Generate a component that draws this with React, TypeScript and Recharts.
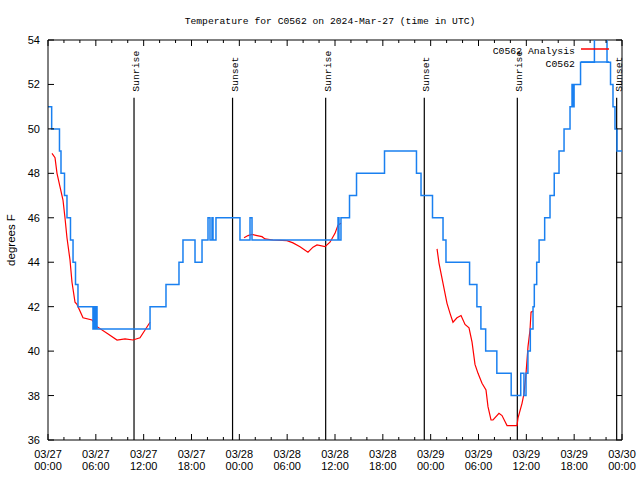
import React from "react";
import { LineChart, Line, XAxis, YAxis, ReferenceLine } from "recharts";

// C0562 observations (deg F), stepped
const obsHours = [
  0, 0.46, 1.44, 1.63, 2.07, 2.38, 2.82, 3.14, 3.45, 3.76, 5.64, 5.77, 5.9, 6.02, 6.15,
  12.8, 14.8, 16.43, 16.93, 18.44, 19.32, 20.07, 20.32, 20.57, 20.7, 21.07, 24.08,
  25.34, 25.59, 36.38, 36.5, 36.75, 37.82, 38.7, 42.21, 46.22, 46.79, 48.23, 49.55,
  49.92, 52.88, 53.8, 54.3, 54.9, 56.3, 58.1, 59.3, 59.7, 59.96, 60.2, 60.5, 60.84,
  61.0, 61.3, 61.6, 62.3, 62.97, 63.5, 64.1, 64.73, 65.48, 65.73, 65.86, 65.99, 66.8,
  68.54, 70.12, 70.56, 70.87, 71.12, 71.37, 72,
];
const obsTemps = [
  51, 50, 49, 48, 47, 46, 45, 44, 43, 42, 41, 42, 41, 42, 41,
  42, 43, 44, 45, 44, 45, 46, 45, 46, 45, 46, 45,
  46, 45, 46, 45, 46, 47, 48, 49, 48, 47, 46, 45,
  44, 43, 42, 41, 40, 39, 38, 39, 38, 39, 40, 41, 42,
  43, 44, 45, 46, 47, 48, 49, 50, 51, 52, 51, 52, 53,
  55, 53, 52, 51, 50, 49, 49,
];

// C0562 Analysis (deg F), null = no analysis
const anaHours = [
  0.5, 0.88, 1.13, 1.5, 1.88, 2.13, 2.38, 2.76, 3.01, 3.39, 3.64, 4.39, 5.52, 6.15,
  7.4, 8.66, 9.66, 10.66, 11.54, 12.17, 12.8,
  18,
  24.59, 25.09, 25.59, 26.22, 26.84, 27.22, 28.22, 29.98, 30.73, 31.61, 32.61, 33.24,
  33.74, 34.75, 35.37, 36.0, 36.38, 36.75,
  42,
  48.8, 49.05, 49.55, 50.05, 50.43, 50.8, 51.3, 51.81, 52.31, 52.81, 53.19, 53.56,
  53.94, 54.44, 54.94, 55.19, 55.57, 55.82, 56.57, 56.95, 57.58, 58.83, 58.96, 59.46,
  59.71, 59.96, 60.21, 60.46, 60.59, 60.84,
];
const anaTemps = [
  48.9, 48.7, 48.0, 47.4, 46.8, 46.0, 45.1, 44.1, 43.1, 42.2, 42.1, 41.5, 41.4, 41.1,
  40.8, 40.5, 40.55, 40.5, 40.6, 40.95, 41.3,
  null,
  45.1, 45.2, 45.25, 45.2, 45.15, 45.05, 45.0, 44.97, 44.87, 44.7, 44.45, 44.68,
  44.78, 44.7, 44.9, 45.3, 45.67, 45.75,
  null,
  44.6, 43.95, 43.05, 42.15, 41.7, 41.3, 41.5, 41.6, 41.2, 41.05, 40.4, 39.4,
  39.0, 38.55, 38.25, 37.5, 36.9, 36.9, 37.2, 37.1, 36.65, 36.65, 37.0, 37.65,
  38.1, 39.0, 40.2, 40.95, 41.75, 41.8,
];

const sunHours = [10.79, 23.15, 34.83, 47.2, 58.87, 71.33];
const sunLabels = ["Sunrise", "Sunset", "Sunrise", "Sunset", "Sunrise", "Sunset"];

const xTicks = Array.from({ length: 37 }, (_, i) => i * 2);
const xMajorHours = [0, 6, 12, 18, 24, 30, 36, 42, 48, 54, 60, 66, 72];
const xDateLabels = [
  "03/27", "03/27", "03/27", "03/27", "03/28", "03/28", "03/28", "03/28",
  "03/29", "03/29", "03/29", "03/29", "03/30",
];
const xTimeLabels = [
  "00:00", "06:00", "12:00", "18:00", "00:00", "06:00", "12:00", "18:00",
  "00:00", "06:00", "12:00", "18:00", "00:00",
];
const yTicks = [36, 38, 40, 42, 44, 46, 48, 50, 52, 54];

const seriesNames = ["C0562 Analysis", "C0562"];
const seriesColors = ["#ff0000", "#1a80f0"];

const obsData = obsHours.map((h, i) => ({ h, t: obsTemps[i] }));
const anaData = anaHours.map((h, i) => ({ h, t: anaTemps[i] }));

const PLOT_TOP = 40;
const PLOT_RIGHT = 622;
const MONO = "Liberation Mono";
const SANS = "Liberation Sans";

function TimeTick(props: any) {
  const { x, y, payload } = props;
  const idx = xMajorHours.indexOf(payload.value);
  const len = idx >= 0 ? 6 : 3;
  return (
    <g>
      <line x1={x} x2={x} y1={y} y2={y - len} stroke="#000" />
      <line x1={x} x2={x} y1={PLOT_TOP} y2={PLOT_TOP + len} stroke="#000" />
      {idx >= 0 && (
        <text x={x} y={y + 18} textAnchor="middle" fontFamily={SANS} fontSize={11} fill="#000">
          <tspan x={x}>{xDateLabels[idx]}</tspan>
          <tspan x={x} dy={12}>{xTimeLabels[idx]}</tspan>
        </text>
      )}
    </g>
  );
}

function TempTick(props: any) {
  const { x, y, payload } = props;
  return (
    <g>
      <line x1={x} x2={x + 6} y1={y} y2={y} stroke="#000" />
      <line x1={PLOT_RIGHT} x2={PLOT_RIGHT - 6} y1={y} y2={y} stroke="#000" />
      <text x={x - 8} y={y + 4} textAnchor="end" fontFamily={SANS} fontSize={11} fill="#000">
        {payload.value}
      </text>
    </g>
  );
}

function SunLabel(props: any) {
  const { viewBox, text } = props;
  const x = viewBox.x + 5;
  const y = viewBox.y - 6;
  return (
    <text x={x} y={y} transform={`rotate(-90 ${x} ${y})`} fontFamily={MONO} fontSize={9.8} fill="#000">
      {text}
    </text>
  );
}

function YTitle(props: any) {
  const { viewBox } = props;
  const y = viewBox.y + viewBox.height / 2;
  return (
    <text x={15} y={y} transform={`rotate(-90 15 ${y})`} textAnchor="middle" fontFamily={SANS} fontSize={11.5} fill="#000">
      degrees F
    </text>
  );
}

function LegendBox() {
  return (
    <svg width={160} height={30} style={{ position: "absolute", left: 460, top: 42 }}>
      {seriesNames.map((name, i) => (
        <g key={name}>
          <text x={115} y={12 + i * 13} textAnchor="end" fontFamily={MONO} fontSize={9.8} fill="#000">
            {name}
          </text>
          <line x1={121} x2={149} y1={7 + i * 13} y2={7 + i * 13} stroke={seriesColors[i]} strokeWidth={1.5} />
        </g>
      ))}
    </svg>
  );
}

export default function App() {
  return (
    <div style={{ position: "absolute", left: 0, top: 0, width: 640, height: 480, background: "#fff" }}>
      <svg width={640} height={30} style={{ position: "absolute", left: 0, top: 0 }}>
        <text x={330} y={24} textAnchor="middle" fontFamily={MONO} fontSize={9.7} fill="#000">
          Temperature for C0562 on 2024-Mar-27 (time in UTC)
        </text>
      </svg>
      <LineChart width={640} height={480} margin={{ top: 40, right: 18, bottom: 0, left: 0 }}>
        <XAxis
          dataKey="h"
          type="number"
          domain={[0, 72]}
          ticks={xTicks}
          interval={0}
          allowDataOverflow
          height={40}
          tickSize={0}
          tickMargin={0}
          tickLine={false}
          axisLine={{ stroke: "#000" }}
          tick={(p: any) => <TimeTick {...p} />}
        />
        <YAxis
          type="number"
          domain={[36, 54]}
          ticks={yTicks}
          interval={0}
          allowDataOverflow
          width={48}
          tickSize={0}
          tickMargin={0}
          tickLine={false}
          axisLine={{ stroke: "#000" }}
          tick={(p: any) => <TempTick {...p} />}
          label={<YTitle />}
        />
        <ReferenceLine y={54} stroke="#000" />
        <ReferenceLine x={72} stroke="#000" />
        {sunHours.map((h, i) => (
          <ReferenceLine
            key={i}
            segment={[{ x: h, y: 36 }, { x: h, y: 51.4 }]}
            stroke="#000"
            strokeWidth={1.2}
            label={<SunLabel text={sunLabels[i]} />}
          />
        ))}
        <Line
          data={anaData}
          dataKey="t"
          name={seriesNames[0]}
          type="linear"
          stroke={seriesColors[0]}
          strokeWidth={1.2}
          dot={false}
          connectNulls={false}
          isAnimationActive={false}
        />
        <Line
          data={obsData}
          dataKey="t"
          name={seriesNames[1]}
          type="stepAfter"
          stroke={seriesColors[1]}
          strokeWidth={1.5}
          dot={false}
          isAnimationActive={false}
        />
      </LineChart>
      <LegendBox />
    </div>
  );
}
